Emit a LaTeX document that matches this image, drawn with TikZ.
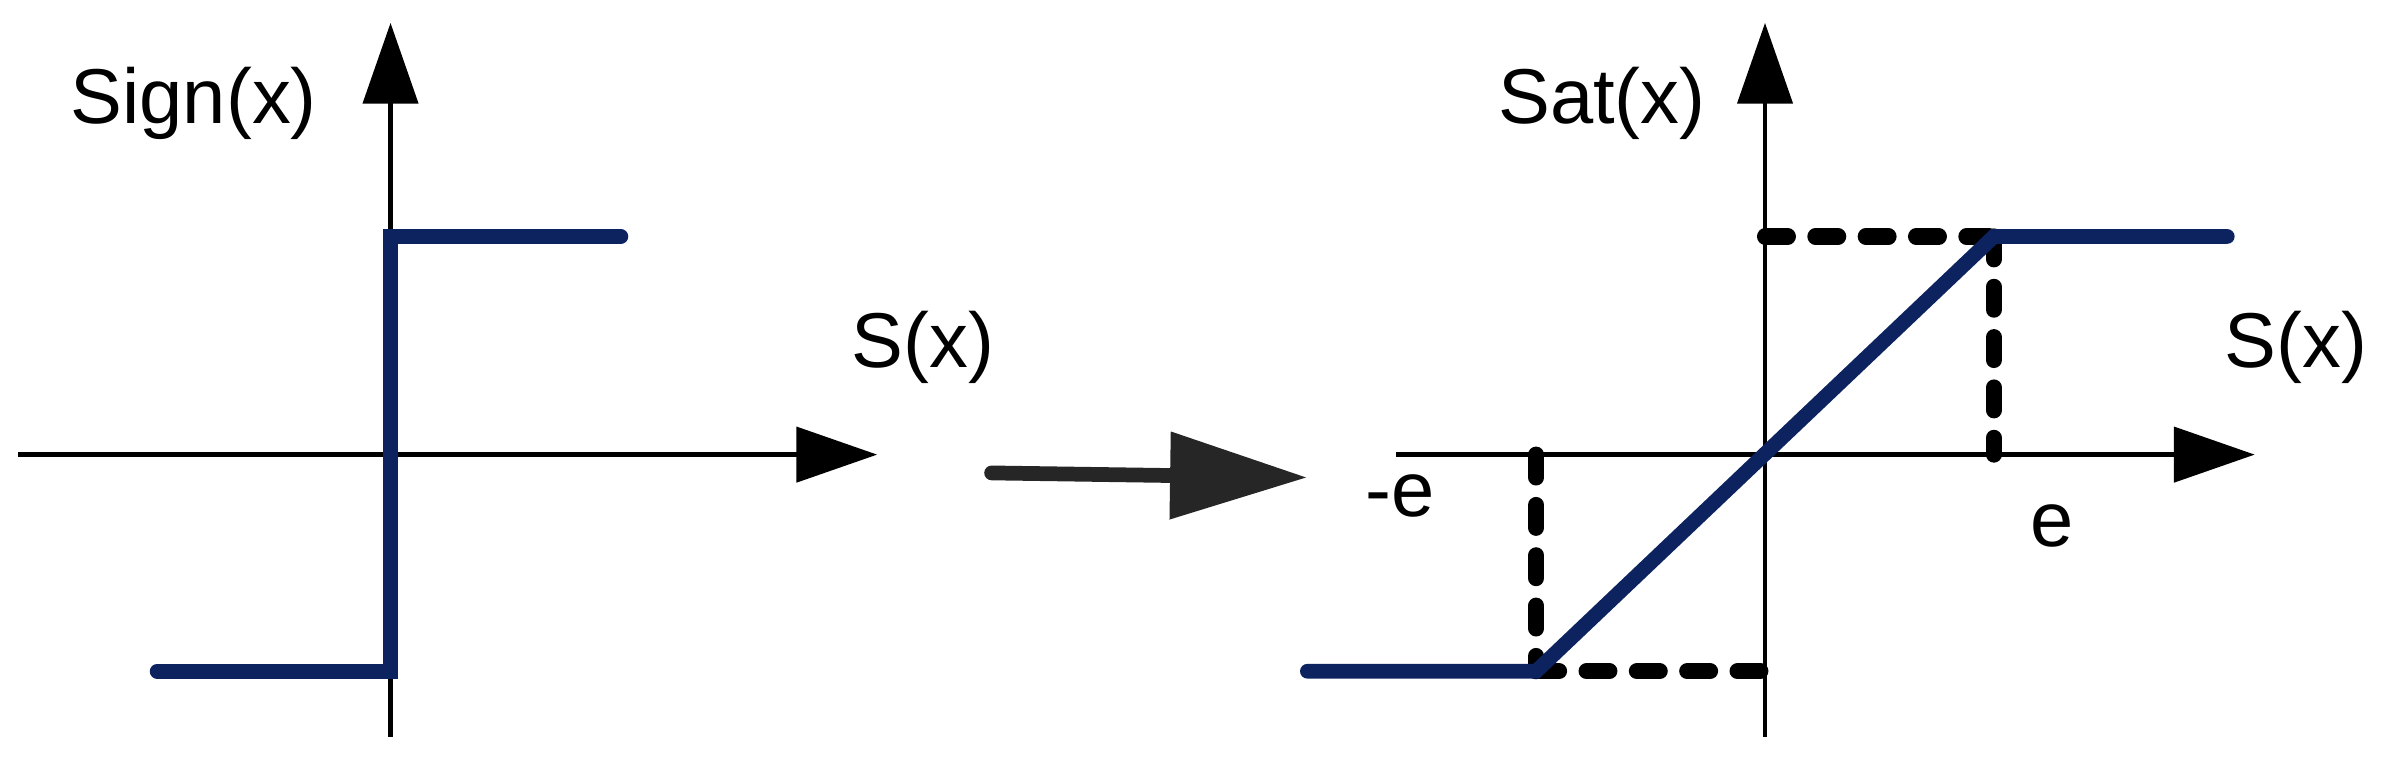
\documentclass[tikz,border=0pt]{standalone}
\usepackage{fontspec}
\setmainfont{Liberation Sans}
\usetikzlibrary{arrows.meta}
\definecolor{navy}{HTML}{0C2360}
\definecolor{dgray}{HTML}{262626}
\begin{document}
\begin{tikzpicture}[x=0.02cm,y=-0.02cm,
  axis/.style={line width=1.8pt,-{Triangle[length=1.06cm,width=0.72cm]}},
  curve/.style={navy,line width=5.5pt,line cap=round,line join=miter},
  dashl/.style={line width=6pt,dash pattern=on 0.3cm off 0.36cm,line cap=round},
  lab/.style={font=\fontsize{29}{32}\selectfont,inner sep=0pt}]
\useasboundingbox (0,0) rectangle (1568,495.6);
% left plot
\coordinate (hl0) at (12,298); \coordinate (hl1) at (575,298);
\coordinate (vl0) at (256,483); \coordinate (vl1) at (256,15);
\draw[axis] (hl0) -- (hl1);
\draw[axis] (vl0) -- (vl1);
\coordinate (s1) at (103,440); \coordinate (s2) at (256,440);
\coordinate (s3) at (256,155); \coordinate (s4) at (407,155);
\draw[curve] (s1) -- (s2) -- (s3) -- (s4);
\node[lab] (signl) at (127,68) {Sign(x)};
\node[lab] (sxl) at (605,228) {S(x)};
% middle arrow
\coordinate (m0) at (650,310); \coordinate (m1) at (857,313);
\draw[dgray,line width=5.5pt,line cap=round,-{Triangle[length=1.8cm,width=1.1cm]}] (m0) -- (m1);
% right plot
\coordinate (hr0) at (915,298); \coordinate (hr1) at (1478,298);
\coordinate (vr0) at (1157,483); \coordinate (vr1) at (1157,15);
\draw[axis] (hr0) -- (hr1);
\draw[axis] (vr0) -- (vr1);
\coordinate (a) at (1157,155); \coordinate (b) at (1307,155);
\coordinate (c) at (1307,298); \coordinate (d) at (1007,298);
\coordinate (e) at (1007,440); \coordinate (f) at (1157,440);
\draw[dashl] (a) -- (b);
\draw[dashl] (b) -- (c);
\draw[dashl] (d) -- (e);
\draw[dashl] (e) -- (f);
\coordinate (t1) at (857,440); \coordinate (t4) at (1460,155);
\draw[curve] (t1) -- (e) -- (b) -- (t4);
\node[lab] (satl) at (1050,68) {Sat(x)};
\node[lab] (sxr) at (1505,228) {S(x)};
\node[lab] (me) at (918,325) {-e};
\node[lab] (pe) at (1345,345) {e};
\end{tikzpicture}
\end{document}
